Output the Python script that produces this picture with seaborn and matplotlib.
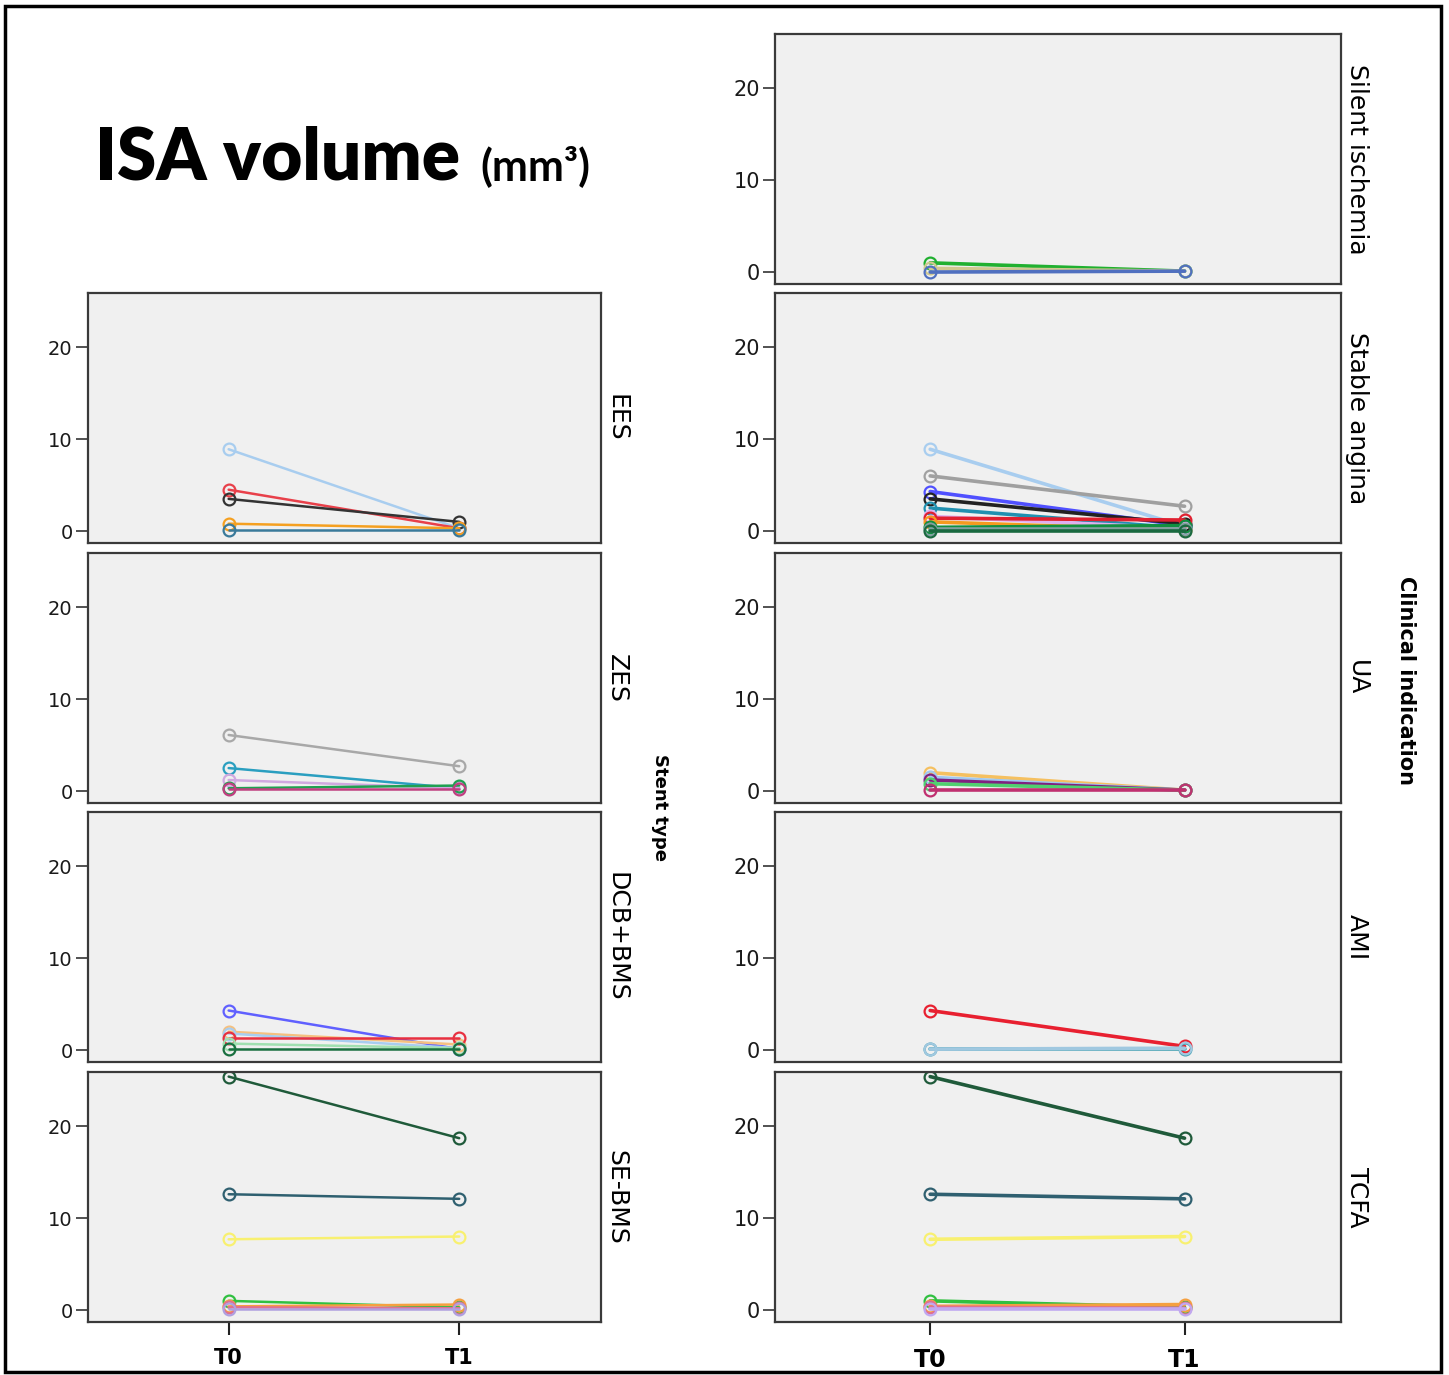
import matplotlib
matplotlib.use("Agg")
import matplotlib.pyplot as plt
from matplotlib.patches import Rectangle
import seaborn as sns
import pandas as pd

# ---------------- data ----------------
times = ["T0", "T1"]

# Stent type panels (left column)
ees_t0 = [8.9, 4.5, 3.5, 0.8, 0.1]
ees_t1 = [0.3, 0.3, 1.0, 0.3, 0.1]
ees_colors = ["#a8cdef", "#e8404a", "#333333", "#f5a020", "#3a7a9a"]

zes_t0 = [6.1, 2.5, 1.2, 0.3, 0.2]
zes_t1 = [2.7, 0.3, 0.3, 0.6, 0.2]
zes_colors = ["#a8a8a8", "#2a9fc0", "#d0a8e0", "#1fa050", "#c04080"]

dcb_t0 = [4.3, 2.0, 1.8, 1.3, 0.7, 0.1]
dcb_t1 = [0.1, 0.6, 0.2, 1.3, 0.2, 0.1]
dcb_colors = ["#6060ff", "#f5c080", "#a8cdef", "#e83040", "#a0e0b0", "#1a7040"]

sebms_t0 = [25.4, 12.6, 7.7, 1.0, 0.4, 0.3, 0.1]
sebms_t1 = [18.7, 12.1, 8.0, 0.3, 0.6, 0.2, 0.1]
sebms_colors = ["#1f5a3a", "#2f6070", "#f8f070", "#30c040", "#f5a040", "#e07090", "#b0a0e0"]

# Clinical indication panels (right column)
silent_t0 = [1.0, 0.4, 0.0]
silent_t1 = [0.1, 0.1, 0.1]
silent_colors = ["#20b030", "#d0c890", "#5070c0"]

stable_t0 = [8.9, 6.0, 4.3, 3.5, 2.5, 1.6, 1.4, 1.0, 0.4, 0.2, 0.0]
stable_t1 = [0.5, 2.7, 0.6, 0.8, 0.3, 0.3, 1.2, 0.1, 0.6, 0.2, 0.0]
stable_colors = ["#a8cdef", "#a0a0a0", "#5050ff", "#222222", "#2090b0", "#e0b0f0",
                 "#e02030", "#f59a20", "#109040", "#80a0a0", "#1a6a40"]

ua_t0 = [2.0, 1.5, 1.2, 0.8, 0.1]
ua_t1 = [0.1, 0.1, 0.1, 0.1, 0.1]
ua_colors = ["#f5c060", "#a0c8f0", "#802080", "#50d070", "#c03070"]

ami_t0 = [4.3, 0.1, 0.1]
ami_t1 = [0.4, 0.1, 0.2]
ami_colors = ["#e82030", "#40a0b0", "#a0c8e0"]

tcfa_t0 = [25.4, 12.6, 7.7, 1.0, 0.4, 0.3, 0.1]
tcfa_t1 = [18.7, 12.1, 8.0, 0.3, 0.6, 0.2, 0.1]
tcfa_colors = ["#1f5a3a", "#2f6070", "#f8f070", "#30c040", "#f5a040", "#e07090", "#c0a8f0"]

stent_labels = ["EES", "ZES", "DCB+BMS", "SE-BMS"]
clin_labels = ["Silent ischemia", "Stable angina", "UA", "AMI", "TCFA"]
y_ticks = [0, 10, 20]

left_panels = [(ees_t0, ees_t1, ees_colors), (zes_t0, zes_t1, zes_colors),
               (dcb_t0, dcb_t1, dcb_colors), (sebms_t0, sebms_t1, sebms_colors)]
right_panels = [(silent_t0, silent_t1, silent_colors), (stable_t0, stable_t1, stable_colors),
                (ua_t0, ua_t1, ua_colors), (ami_t0, ami_t1, ami_colors),
                (tcfa_t0, tcfa_t1, tcfa_colors)]

# ---------------- figure ----------------
sns.set_theme(style="white")
plt.rcParams["font.family"] = ["DejaVu Sans"]
plt.rcParams["text.color"] = "black"

W, H = 1449, 1375
fig = plt.figure(figsize=(W / 100, H / 100), dpi=100)
fig.patch.set_facecolor("white")

# outer frame
fig.add_artist(Rectangle((5 / W, 1 - 1372 / H), 1436 / W, 1366 / H,
                         transform=fig.transFigure, fill=False,
                         edgecolor="black", linewidth=2.5))


def make_ax(x0, top, w, h):
    return fig.add_axes([x0 / W, 1 - (top + h) / H, w / W, h / H])


def draw_panel(ax, t0, t1, colors, lw, label, label_x, bottom, tick_fs, xtick_fs, lab_fs):
    for a, b, c in zip(t0, t1, colors):
        d = pd.DataFrame({"time": times, "vol": [a, b]})
        sns.lineplot(data=d, x="time", y="vol", ax=ax, color=c, linewidth=lw,
                     marker="o", markersize=8.5, markerfacecolor="none",
                     markeredgecolor=c, markeredgewidth=1.6, sort=False)
    ax.set_facecolor("#f0f0f0")
    ax.set_xlim(-0.61, 1.615)
    ax.set_ylim(-1.3, 25.9)
    ax.set_yticks(y_ticks)
    ax.set_yticklabels([str(v) for v in y_ticks], fontsize=tick_fs, color="#1a1a1a")
    ax.tick_params(axis="y", direction="out", length=9, width=1.2, color="#333333",
                   left=True, pad=2)
    if bottom:
        ax.set_xticks([0, 1])
        ax.set_xticklabels(times, fontsize=xtick_fs, fontweight="bold", color="black")
        ax.tick_params(axis="x", direction="out", length=9, width=1.5, color="#222222",
                       bottom=True, pad=10)
    else:
        ax.set_xticks([])
    ax.set_xlabel("")
    ax.set_ylabel("")
    for s in ax.spines.values():
        s.set_color("#3a3a3a")
        s.set_linewidth(1.6)
    ax.text(label_x, 0.5, label, transform=ax.transAxes, rotation=-90,
            ha="center", va="center", fontsize=lab_fs, color="black")


left_tops = [293, 553, 812, 1072]
for i, ((t0, t1, cols), lab) in enumerate(zip(left_panels, stent_labels)):
    ax = make_ax(88, left_tops[i], 513, 250)
    draw_panel(ax, t0, t1, cols, 1.8, lab, 1.03, i == len(left_panels) - 1, 14, 15, 18)

right_tops = [34, 293, 553, 812, 1072]
for i, ((t0, t1, cols), lab) in enumerate(zip(right_panels, clin_labels)):
    ax = make_ax(775, right_tops[i], 566, 250)
    draw_panel(ax, t0, t1, cols, 2.6, lab, 1.028, i == len(right_panels) - 1, 15, 17, 18)

# column titles
fig.text(660 / W, 1 - 808 / H, "Stent type", rotation=-90, ha="center", va="center",
         fontsize=13, fontweight="bold", color="black")
fig.text(1406 / W, 1 - 680 / H, "Clinical indication", rotation=-90, ha="center",
         va="center", fontsize=15, fontweight="bold", color="black")

# main title
t_main = fig.text(95 / W, 1 - 180 / H, "ISA volume", ha="left", va="baseline",
                  fontsize=51, fontweight="heavy", family=["Lato", "DejaVu Sans"],
                  color="black")
fig.canvas.draw()
bb = t_main.get_window_extent(renderer=fig.canvas.get_renderer())
x_unit = (bb.x1 + 20) / W
fig.text(x_unit, 1 - 180 / H, "(mm³)", ha="left", va="baseline",
         fontsize=31, fontweight="bold", family=["Lato", "DejaVu Sans"], color="black")

fig.savefig("out.png", dpi=100, facecolor="white")
